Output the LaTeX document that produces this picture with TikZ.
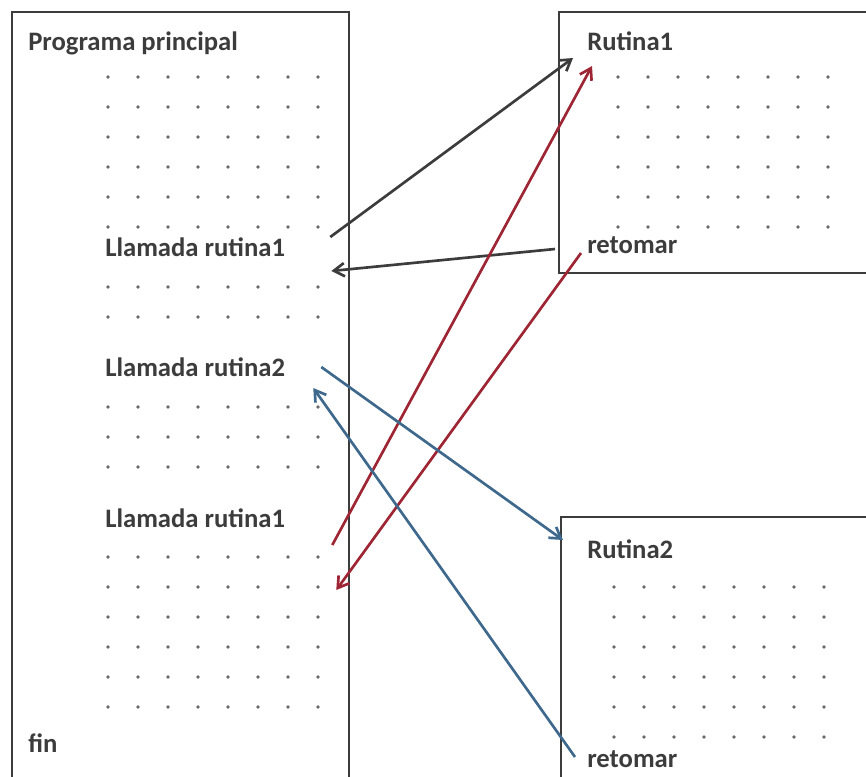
\documentclass[tikz,border=0pt]{standalone}
\usepackage{fontspec}
\setmainfont{Carlito}
\usepackage{xcolor}
\usetikzlibrary{arrows.meta}
\definecolor{linegray}{RGB}{60,60,60}
\definecolor{callred}{RGB}{158,38,52}
\definecolor{callblue}{RGB}{62,104,140}
\definecolor{dotgray}{RGB}{105,105,105}

\begin{document}
\begin{tikzpicture}[x=0.75pt, y=-0.75pt, >={Straight Barb[length=8pt,width=10pt]}, every node/.style={font=\fontsize{20}{24}\selectfont\bfseries, text=linegray, inner sep=0pt}]
\tikzstyle{lbl}=[anchor=base west]
\tikzstyle{frame}=[draw=linegray, line width=2.1pt]
\tikzstyle{call}=[->, line width=2pt]
\useasboundingbox (0,0) rectangle (866,776);
\clip (0,0) rectangle (866,776);
% frames
\draw[frame] (12,790) -- (12,12) -- (349,12) -- (349,790);
\draw[frame] (880,12) -- (559,12) -- (559,273) -- (880,273);
\draw[frame] (880,517) -- (561,517) -- (561,790);
% dotted lines
\foreach \y in {77,107,137,167,197,227,287,317,407,437,467,557,587,617,647,677,707}
  \foreach \i in {0,...,7}
    \fill[dotgray] (108+30*\i,\y) circle (1.8);
\foreach \y in {77,107,137,167,197,227}
  \foreach \i in {0,...,7}
    \fill[dotgray] (618+30*\i,\y) circle (1.8);
\foreach \y in {587,617,647,677,707,737}
  \foreach \i in {0,...,7}
    \fill[dotgray] (614+30*\i,\y) circle (1.8);
% labels
\node[lbl] (prog) at (28,50) {Programa principal};
\node[lbl] (llam1) at (105,256) {Llamada rutina1};
\node[lbl] (llam2) at (105,376) {Llamada rutina2};
\node[lbl] (llam3) at (105,527) {Llamada rutina1};
\node[lbl] (fin) at (28,752) {fin};
\node[lbl] (rut1) at (587,50) {Rutina1};
\node[lbl] (ret1) at (587,253) {retomar};
\node[lbl] (rut2) at (587,558) {Rutina2};
\node[lbl] (ret2) at (587,767) {retomar};
% calls and returns
\draw[call, linegray] ([shift={(45,-19)}]llam1.base east) -- ([shift={(-14,8)}]rut1.base west);
\draw[call, linegray] ([shift={(-32,-4)}]ret1.base west) -- ([shift={(46,15)}]llam1.base east);
\draw[call, callred] ([shift={(47,18)}]llam3.base east) -- ([shift={(5,16)}]rut1.base west);
\draw[call, callred] ([shift={(-6,0)}]ret1.base west) -- ([shift={(51,63)}]llam3.base east);
\draw[call, callblue] ([shift={(36,-9)}]llam2.base east) -- ([shift={(-24,-18)}]rut2.base west);
\draw[call, callblue] ([shift={(-12,-10)}]ret2.base west) -- ([shift={(28,12)}]llam2.base east);
\end{tikzpicture}
\end{document}
